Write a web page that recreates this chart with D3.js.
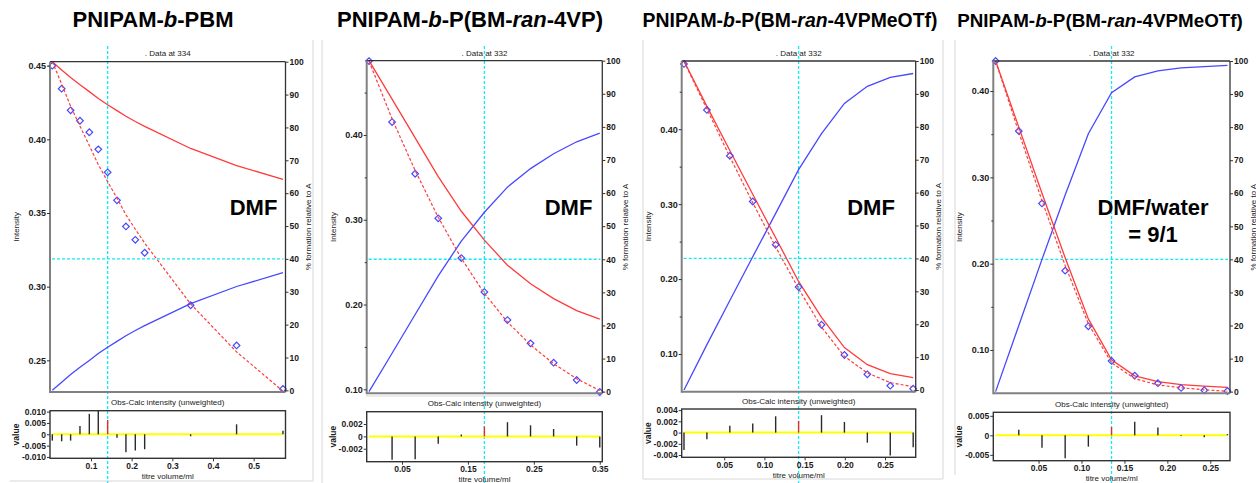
<!DOCTYPE html>
<html>
<head>
<meta charset="utf-8">
<script src="https://cdn.jsdelivr.net/npm/d3@7"></script>
<style>
  body { margin: 0; background: #fff; }
  svg { display: block; font-family: "Liberation Sans", Arial, Helvetica, sans-serif; }
</style>
</head>
<body>
<svg id="chart" width="1256" height="483"></svg>
<script>
// ---- titration data (titre volume / ml, intensity, % species) ----
const titre1 = [0.005, 0.028, 0.050, 0.073, 0.096, 0.118, 0.141, 0.164, 0.186, 0.209, 0.232, 0.345, 0.458, 0.572];
const obs1   = [0.4500, 0.4344, 0.4197, 0.4126, 0.4048, 0.3932, 0.3776, 0.3586, 0.3409, 0.3318, 0.3230, 0.2874, 0.2601, 0.2306];
const calc1  = [0.4528, 0.4375, 0.4225, 0.4089, 0.3958, 0.3829, 0.3713, 0.3601, 0.3488, 0.3390, 0.3296, 0.2883, 0.2557, 0.2291];
const pctA1  = [100, 97.5, 95.2, 93.0, 90.9, 88.8, 86.9, 85.1, 83.4, 81.8, 80.3, 73.6, 68.4, 64.2];
const pctB1  = [0, 2.5, 4.8, 7.0, 9.1, 11.2, 13.1, 14.9, 16.6, 18.2, 19.7, 26.4, 31.6, 35.8];

const titre2 = [0, 0.035, 0.070, 0.105, 0.140, 0.175, 0.210, 0.245, 0.280, 0.315, 0.350];
const obs2   = [0.4871, 0.4152, 0.3543, 0.3017, 0.2548, 0.2147, 0.1817, 0.1542, 0.1314, 0.1110, 0.0968];
const calc2  = [0.4871, 0.4190, 0.3580, 0.3029, 0.2545, 0.2131, 0.1794, 0.1524, 0.1302, 0.1125, 0.0986];
const pctA2  = [100, 88.4, 76.7, 65.0, 54.5, 45.8, 38.2, 32.6, 28.1, 24.5, 21.9];
const pctB2  = [0, 11.6, 23.3, 35.0, 45.5, 54.2, 61.8, 67.4, 71.9, 75.5, 78.1];

const titre3 = [0, 0.0285, 0.057, 0.0855, 0.114, 0.1425, 0.171, 0.1995, 0.228, 0.2565, 0.285];
const obs3   = [0.4871, 0.4257, 0.3644, 0.3035, 0.2457, 0.1893, 0.1390, 0.0987, 0.0729, 0.0577, 0.0537];
const calc3  = [0.4902, 0.4269, 0.3632, 0.3019, 0.2428, 0.1872, 0.1359, 0.0968, 0.0747, 0.0618, 0.0563];
const pctA3  = [100, 86.2, 72.8, 59.5, 46.3, 33.0, 22.1, 12.9, 7.7, 5.0, 3.8];
const pctB3  = [0, 13.8, 27.2, 40.5, 53.7, 67.0, 77.9, 87.1, 92.3, 95.0, 96.2];

const titre4 = [0, 0.027, 0.054, 0.081, 0.108, 0.135, 0.162, 0.189, 0.216, 0.243, 0.270];
const obs4   = [0.4348, 0.3536, 0.2698, 0.1919, 0.1274, 0.0873, 0.0703, 0.0615, 0.0560, 0.0533, 0.0525];
const calc4  = [0.4348, 0.3522, 0.2730, 0.1978, 0.1303, 0.0852, 0.0668, 0.0595, 0.0562, 0.0538, 0.0522];
const pctA4  = [100, 80.0, 60.0, 40.5, 22.0, 9.6, 4.8, 3.0, 2.1, 1.7, 1.3];
const pctB4  = [0, 20.0, 40.0, 59.5, 78.0, 90.4, 95.2, 97.0, 97.9, 98.3, 98.7];

// ---- titles, annotations and tick values ----
const titleSegs = [
  [["PNIPAM-", false], ["b", true], ["-PBM", false]],
  [["PNIPAM-", false], ["b", true], ["-P(BM-", false], ["ran", true], ["-4VP)", false]],
  [["PNIPAM-", false], ["b", true], ["-P(BM-", false], ["ran", true], ["-4VPMeOTf)", false]],
  [["PNIPAM-", false], ["b", true], ["-P(BM-", false], ["ran", true], ["-4VPMeOTf)", false]]
];
const wavelengths = [334, 332, 332, 332];
const solventText = [["DMF"], ["DMF"], ["DMF"], ["DMF/water", "= 9/1"]];
const markedPoint = [6, 5, 5, 5];

const intTicks1 = [0.25, 0.30, 0.35, 0.40, 0.45];
const intTicks = [0.10, 0.20, 0.30, 0.40];
const intMinor = [0.15, 0.25, 0.35, 0.45];
const pctTicks = [0, 10, 20, 30, 40, 50, 60, 70, 80, 90, 100];
const resTicks1 = [-0.010, -0.005, 0, 0.005, 0.010];
const resTicks2 = [-0.002, 0, 0.002];
const resTicks3 = [-0.004, -0.002, 0, 0.002, 0.004];
const resTicks4 = [-0.005, 0, 0.005];
const xTicks1 = [0.1, 0.2, 0.3, 0.4, 0.5];
const xTicks2 = [0.05, 0.15, 0.25, 0.35];
const xTicks34 = [0.05, 0.10, 0.15, 0.20, 0.25];

const panels = [
  { x: titre1, obs: obs1, calc: calc1, a: pctA1, b: pctB1, yDom: [0.2285, 0.4527], yTicks: intTicks1, yMinor: [], yDec: 2,
    rDom: [-0.0106, 0.0104], rTicks: resTicks1, xTicks: xTicks1, xDec: 1 },
  { x: titre2, obs: obs2, calc: calc2, a: pctA2, b: pctB2, yDom: [0.0953, 0.4876], yTicks: intTicks, yMinor: intMinor, yDec: 2,
    rDom: [-0.0041, 0.0040], rTicks: resTicks2, xTicks: xTicks2, xDec: 2 },
  { x: titre3, obs: obs3, calc: calc3, a: pctA3, b: pctB3, yDom: [0.0497, 0.4910], yTicks: intTicks, yMinor: intMinor, yDec: 2,
    rDom: [-0.0044, 0.0042], rTicks: resTicks3, xTicks: xTicks34, xDec: 2 },
  { x: titre4, obs: obs4, calc: calc4, a: pctA4, b: pctB4, yDom: [0.0498, 0.4348], yTicks: intTicks, yMinor: intMinor, yDec: 2,
    rDom: [-0.0065, 0.0059], rTicks: resTicks4, xTicks: xTicks34, xDec: 2 }
];

// ---- geometry of each panel ----
const layout = [
  { left: 50,    right: 285.5, top: 61.7, bottom: 392,   rTop: 410.7, rBot: 458.3, titleX: 153,  titleSize: 22,   solX: 253.5 },
  { left: 366.7, right: 602.3, top: 60.7, bottom: 393.3, rTop: 411.7, rBot: 461.7, titleX: 470,  titleSize: 22,   solX: 568.5 },
  { left: 681.7, right: 915.7, top: 61,   bottom: 391.7, rTop: 409,   rBot: 457.3, titleX: 790,  titleSize: 19.4, solX: 871 },
  { left: 993.3, right: 1230,  top: 61,   bottom: 393.3, rTop: 412.3, rBot: 460.7, titleX: 1100, titleSize: 18.8, solX: 1153 }
];

const RED = "#ff3b3b", BLUE = "#4848ff", CYAN = "#10ecf5", TXT = "#1a1a1a";
const svg = d3.select("#chart");

// faint frames of the individual plot windows
const frameLines = [
  [313, 40, 313, 481], [322, 40, 322, 483], [643, 40, 643, 479], [943, 40, 943, 479], [955, 40, 955, 475],
  [10, 481, 313, 481], [643, 479, 943, 479], [366, 396, 602, 396]
];
svg.append("g").selectAll("line").data(frameLines).join("line")
  .attr("x1", d => d[0]).attr("y1", d => d[1]).attr("x2", d => d[2]).attr("y2", d => d[3])
  .attr("stroke", "#e4e4e4").attr("stroke-width", 1.5);

function styleAxis(sel, size, bold) {
  sel.select(".domain").remove();
  sel.selectAll(".tick line").attr("stroke", "#333").attr("stroke-width", 1);
  sel.selectAll(".tick text").attr("font-size", size).attr("font-weight", bold ? "bold" : "normal")
    .attr("fill", TXT).attr("font-family", '"Liberation Sans", Arial, sans-serif');
}

panels.forEach((p, i) => {
  const L = layout[i];
  const g = svg.append("g");
  const n = p.x.length;
  const span = p.x[n - 1] - p.x[0];
  const x = d3.scaleLinear().domain([p.x[0] - span * 0.010, p.x[n - 1] + span * 0.011]).range([L.left, L.right]);
  const y = d3.scaleLinear().domain(p.yDom).range([L.bottom, L.top]);
  const yp = d3.scaleLinear().domain([-0.5, 100]).range([L.bottom, L.top]);
  const yr = d3.scaleLinear().domain(p.rDom).range([L.rBot, L.rTop]);
  const midX = (L.left + L.right) / 2;

  // heading above each panel
  const t = g.append("text").attr("x", L.titleX).attr("y", 27).attr("text-anchor", "middle")
    .attr("font-size", L.titleSize).attr("font-weight", "bold").attr("fill", "#000");
  titleSegs[i].forEach(s => t.append("tspan").text(s[0]).attr("font-style", s[1] ? "italic" : "normal"));

  g.append("text").attr("x", midX).attr("y", 56).attr("text-anchor", "middle")
    .attr("font-size", 8).attr("fill", TXT).text(". Data at " + wavelengths[i]);

  // cursor lines
  const xm = x(p.x[markedPoint[i]]);
  g.append("line").attr("x1", xm).attr("x2", xm).attr("y1", 46).attr("y2", 483)
    .attr("stroke", CYAN).attr("stroke-width", 1.3).attr("stroke-dasharray", "3,2");
  g.append("line").attr("x1", L.left + 2).attr("x2", L.right - 2).attr("y1", yp(40)).attr("y2", yp(40))
    .attr("stroke", CYAN).attr("stroke-width", 1.3).attr("stroke-dasharray", "3,2");

  const idx = d3.range(n);
  const pctLine = arr => d3.line().x(k => x(p.x[k])).y(k => yp(arr[k]))(idx);

  g.append("path").attr("d", pctLine(p.b)).attr("fill", "none").attr("stroke", BLUE).attr("stroke-width", 1.3);
  g.append("path").attr("d", pctLine(p.a)).attr("fill", "none").attr("stroke", RED).attr("stroke-width", 1.3);

  // observed intensities
  const diamond = d3.symbol().type(d3.symbolSquare).size(22);
  g.append("g").selectAll("path").data(idx).join("path")
    .attr("d", diamond)
    .attr("transform", k => `translate(${x(p.x[k])},${y(p.obs[k])}) rotate(45)`)
    .attr("fill", "none").attr("stroke", BLUE).attr("stroke-width", 1.2);

  // calculated intensities
  g.append("path").attr("d", d3.line().x(k => x(p.x[k])).y(k => y(p.calc[k]))(idx))
    .attr("fill", "none").attr("stroke", RED).attr("stroke-width", 1.2).attr("stroke-dasharray", "3,2");

  // plot frame
  g.append("line").attr("x1", L.left).attr("x2", L.right).attr("y1", L.top).attr("y2", L.top).attr("stroke", "#333").attr("stroke-width", 1.3);
  g.append("line").attr("x1", L.right).attr("x2", L.right).attr("y1", L.top).attr("y2", L.bottom).attr("stroke", "#333").attr("stroke-width", 1.3);
  g.append("line").attr("x1", L.left).attr("x2", L.left).attr("y1", L.top).attr("y2", L.bottom + 1).attr("stroke", "#808080").attr("stroke-width", 2);
  g.append("line").attr("x1", L.left).attr("x2", L.right).attr("y1", L.bottom).attr("y2", L.bottom).attr("stroke", "#808080").attr("stroke-width", 2);

  // intensity axis
  const ax = g.append("g").attr("transform", `translate(${L.left},0)`)
    .call(d3.axisLeft(y).tickValues(p.yTicks).tickSize(3).tickPadding(1).tickFormat(d => d.toFixed(p.yDec)));
  styleAxis(ax, 9, true);
  const minor = p.yMinor.filter(v => v > p.yDom[0] && v < p.yDom[1]);
  if (minor.length) {
    const am = g.append("g").attr("transform", `translate(${L.left},0)`)
      .call(d3.axisLeft(y).tickValues(minor).tickSize(2).tickFormat(""));
    styleAxis(am, 8, false);
  }
  // % axis
  const ar = g.append("g").attr("transform", `translate(${L.right},0)`)
    .call(d3.axisRight(yp).tickValues(pctTicks).tickSize(3).tickPadding(1));
  styleAxis(ar, 8.5, true);

  const midY = (L.top + L.bottom) / 2;
  g.append("text").attr("transform", `translate(${L.left - 31},${midY}) rotate(-90)`).attr("text-anchor", "middle")
    .attr("font-size", 8).attr("fill", TXT).text("Intensity");
  g.append("text").attr("transform", `translate(${L.right + 25.5},${midY}) rotate(-90)`).attr("text-anchor", "middle")
    .attr("font-size", 8).attr("fill", TXT).text("% formation relative to A");

  // solvent annotation
  solventText[i].forEach((s, j) => {
    g.append("text").attr("x", L.solX).attr("y", 215 + j * 27).attr("text-anchor", "middle")
      .attr("font-size", 22).attr("font-weight", "bold").attr("fill", "#000").text(s);
  });

  // ---- residual strip ----
  g.append("text").attr("x", midX).attr("y", L.rTop - 5.5).attr("text-anchor", "middle")
    .attr("font-size", 8).attr("fill", TXT).text("Obs-Calc intensity (unweighted)");
  g.append("rect").attr("x", L.left).attr("y", L.rTop).attr("width", L.right - L.left).attr("height", L.rBot - L.rTop)
    .attr("fill", "none").attr("stroke", "#333").attr("stroke-width", 1.4);
  g.append("line").attr("x1", x(p.x[0])).attr("x2", x(p.x[n - 1])).attr("y1", yr(0)).attr("y2", yr(0))
    .attr("stroke", "#ffff00").attr("stroke-width", 2);
  g.append("g").selectAll("line").data(idx).join("line")
    .attr("x1", k => x(p.x[k])).attr("x2", k => x(p.x[k]))
    .attr("y1", yr(0)).attr("y2", k => yr(p.obs[k] - p.calc[k]))
    .attr("stroke", k => k === markedPoint[i] ? "#e0302c" : "#2a2a2a").attr("stroke-width", 1.4);

  const rl = g.append("g").attr("transform", `translate(${L.left},0)`)
    .call(d3.axisLeft(yr).tickValues(p.rTicks).tickSize(3).tickPadding(1)
      .tickFormat(d => Math.abs(d) < 1e-9 ? "0" : d.toFixed(3)));
  styleAxis(rl, 8.5, true);
  const rb = g.append("g").attr("transform", `translate(0,${L.rBot})`)
    .call(d3.axisBottom(x).tickValues(p.xTicks).tickSize(3).tickPadding(1.5).tickFormat(d => d.toFixed(p.xDec)));
  styleAxis(rb, 8.5, true);

  g.append("text").attr("transform", `translate(${L.left - 31},${(L.rTop + L.rBot) / 2}) rotate(-90)`)
    .attr("text-anchor", "middle").attr("font-size", 8.5).attr("font-weight", "bold").attr("fill", TXT).text("value");
  g.append("text").attr("x", midX).attr("y", L.rBot + 20.5).attr("text-anchor", "middle")
    .attr("font-size", 8).attr("fill", TXT).text("titre volume/ml");
});
</script>
</body>
</html>
